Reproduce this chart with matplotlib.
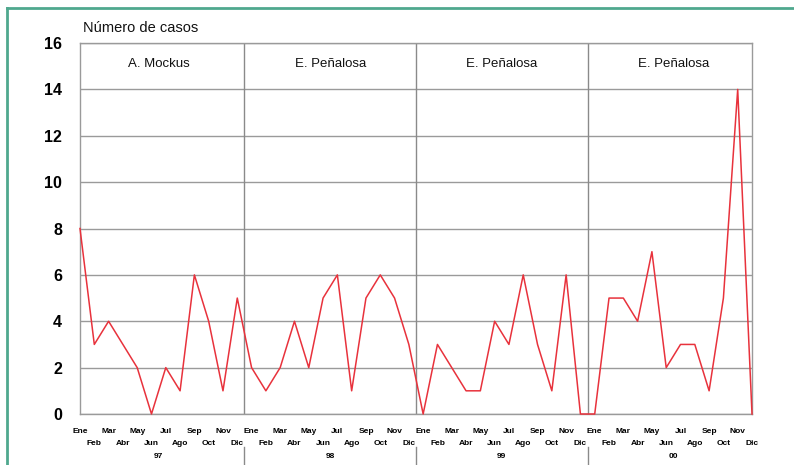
import matplotlib.pyplot as plt
import matplotlib.transforms as mtransforms
from matplotlib.lines import Line2D

# Número de casos por mes, 1997-2000
casos_97 = [8, 3, 4, 3, 2, 0, 2, 1, 6, 4, 1, 5]
casos_98 = [2, 1, 2, 4, 2, 5, 6, 1, 5, 6, 5, 3]
casos_99 = [0, 3, 2, 1, 1, 4, 3, 6, 3, 1, 6, 0]
casos_00 = [0, 5, 5, 4, 7, 2, 3, 3, 1, 5, 14, 0]
meses = ['Ene', 'Feb', 'Mar', 'Abr', 'May', 'Jun', 'Jul', 'Ago', 'Sep', 'Oct', 'Nov', 'Dic']
anios = ['97', '98', '99', '00']
alcaldes = ['A. Mockus', 'E. Peñalosa', 'E. Peñalosa', 'E. Peñalosa']

casos = casos_97 + casos_98 + casos_99 + casos_00
x = list(range(len(casos)))

plt.rcParams['font.family'] = ['Liberation Sans', 'DejaVu Sans']

fig = plt.figure(figsize=(7.94, 4.65), dpi=100)
ax = fig.add_axes([80 / 794, 1 - 414 / 465, 672 / 794, 371 / 465])

# marco verde de la figura
fig.add_artist(Line2D([7 / 794, 7 / 794], [0, 1 - 8 / 465], transform=fig.transFigure,
                      color='#4fa88e', lw=2))
fig.add_artist(Line2D([7 / 794, 1], [1 - 8 / 465, 1 - 8 / 465], transform=fig.transFigure,
                      color='#4fa88e', lw=2))

ax.plot(x, casos, color='#e8323c', lw=1.1, zorder=3, clip_on=False)

ax.set_xlim(0, len(casos) - 1)
ax.set_ylim(0, 16)
ax.set_yticks(range(0, 17, 2))
ax.tick_params(axis='y', length=0, pad=13, labelsize=11.5)
for lab in ax.get_yticklabels():
    lab.set_fontweight('bold')
ax.grid(axis='y', color='#9a9a9a', lw=1)
for s in ax.spines.values():
    s.set_color('#9a9a9a')
    s.set_linewidth(1)

# separadores entre años
trans = mtransforms.blended_transform_factory(ax.transData, ax.transAxes)
for k in range(1, 4):
    xs = 12 * k - 0.5
    ax.axvline(xs, color='#8a8a8a', lw=1)
    ax.add_line(Line2D([xs, xs], [-0.09, -0.2], transform=trans, color='#8a8a8a',
                       lw=1, clip_on=False))

# etiquetas de meses en dos filas (impares arriba, pares abajo)
ax.set_xticks([])
for k, a in enumerate(anios):
    for i, m in enumerate(meses):
        yy = -0.046 if i % 2 == 0 else -0.079
        ax.text(12 * k + i, yy, m, transform=trans, ha='center', va='center',
                fontsize=6, fontweight='bold')
    ax.text(12 * k + 5.5, -0.114, a, transform=trans, ha='center', va='center',
            fontsize=6, fontweight='bold')
    ax.text(12 * k + 5.5, 15.1, alcaldes[k], ha='center', va='center', fontsize=9.5,
            color='#111111')

ax.text(0.2, 16.35, 'Número de casos', ha='left', va='bottom', fontsize=10.5,
        color='#111111')

fig.savefig('out.png', dpi=100)
